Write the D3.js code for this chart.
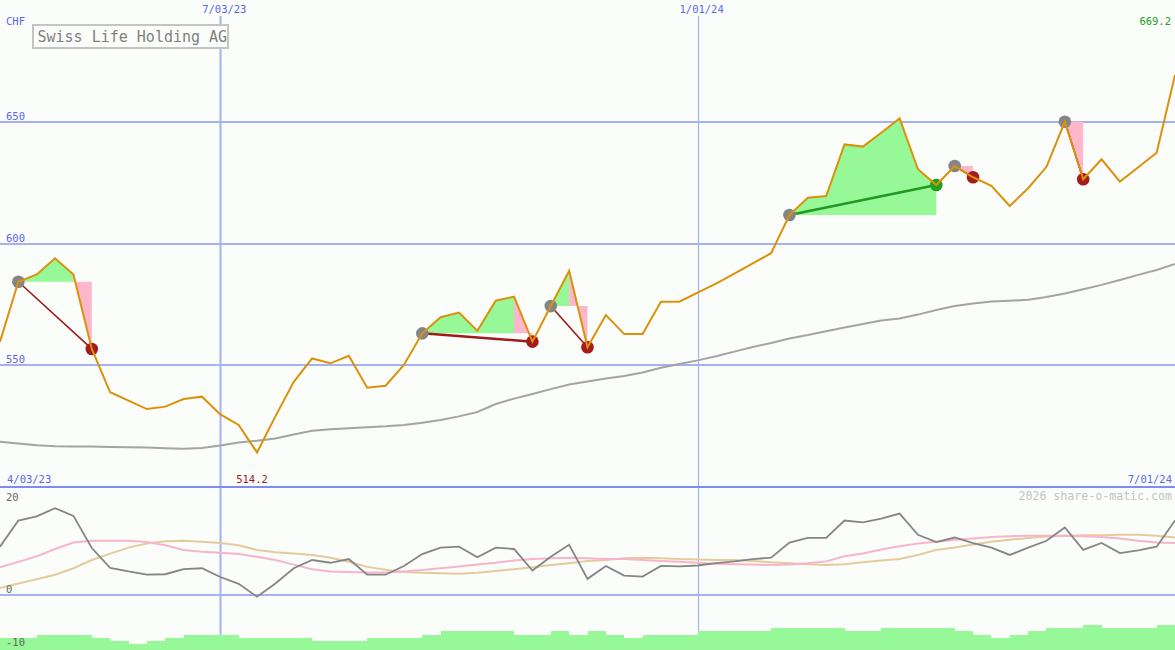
<!DOCTYPE html>
<html><head><meta charset="utf-8">
<script src="https://cdn.jsdelivr.net/npm/d3@7"></script>
<style>
html,body{margin:0;padding:0;background:#fafdfa;}
svg{display:block;}
text{font-family:"DejaVu Sans Mono",monospace;}
</style></head><body>
<svg id="chart" width="1175" height="650"></svg>
<script>
// ---------- data ----------
const title = "Swiss Life Holding AG";
const currency = "CHF";
const weeks = ["2023-04-10","2023-04-17","2023-04-24","2023-05-01","2023-05-08","2023-05-15","2023-05-22","2023-05-29","2023-06-05","2023-06-12","2023-06-19","2023-06-26","2023-07-03","2023-07-10","2023-07-17","2023-07-24","2023-07-31","2023-08-07","2023-08-14","2023-08-21","2023-08-28","2023-09-04","2023-09-11","2023-09-18","2023-09-25","2023-10-02","2023-10-09","2023-10-16","2023-10-23","2023-10-30","2023-11-06","2023-11-13","2023-11-20","2023-11-27","2023-12-04","2023-12-11","2023-12-18","2023-12-25","2024-01-01","2024-01-08","2024-01-15","2024-01-22","2024-01-29","2024-02-05","2024-02-12","2024-02-19","2024-02-26","2024-03-04","2024-03-11","2024-03-18","2024-03-25","2024-04-01","2024-04-08","2024-04-15","2024-04-22","2024-04-29","2024-05-06","2024-05-13","2024-05-20","2024-05-27","2024-06-03","2024-06-10","2024-06-17","2024-06-24","2024-07-01"];
const price = [559.7,584.3,587.3,593.9,587.3,556.7,538.9,535.5,532.0,533.0,536.1,537.1,529.8,525.5,514.2,529.0,543.2,552.8,550.8,553.9,540.8,541.6,550.1,563.1,569.7,571.6,564.2,576.5,578.2,559.7,574.3,588.8,557.4,570.6,562.8,562.8,576.1,576.1,579.8,583.5,587.6,591.8,596.0,611.7,618.8,619.5,640.7,639.8,645.5,651.4,630.5,624.0,631.8,627.2,623.7,615.4,622.7,631.5,650.0,626.4,634.6,625.4,631.3,637.3,669.2];
const movingAvg = [518.6,517.9,517.1,516.7,516.6,516.6,516.4,516.3,516.2,515.9,515.7,516.0,517.0,518.3,519.0,519.9,521.6,523.1,523.7,524.1,524.5,524.9,525.5,526.4,527.5,529.0,530.8,534.1,536.3,538.2,540.2,542.1,543.3,544.6,545.6,547.0,549.0,550.5,552.0,553.7,555.6,557.5,559.1,561.0,562.4,564.0,565.5,566.9,568.4,569.2,570.8,572.7,574.3,575.4,576.2,576.5,576.9,578.0,579.5,581.2,583.0,585.0,587.1,589.1,591.6];
const oscLine = [10.5,16.2,17.1,18.9,17.2,10.2,5.9,5.1,4.4,4.5,5.6,5.8,3.9,2.4,-0.4,2.5,5.8,7.6,7.0,7.8,4.4,4.4,6.3,8.9,10.3,10.5,8.2,10.3,10.0,5.3,8.3,10.9,3.5,6.3,4.2,4.0,6.3,6.2,6.4,6.9,7.3,7.8,8.1,11.4,12.4,12.4,16.2,15.8,16.6,17.7,13.1,11.5,12.5,11.3,10.3,8.7,10.3,11.8,14.7,9.8,11.3,9.1,9.7,10.5,16.2];
const oscPink = [6.0,7.2,8.4,10.0,11.4,11.8,11.8,11.8,11.5,10.8,9.8,9.4,9.2,8.9,8.3,7.6,6.6,5.6,5.1,5.0,4.9,4.9,5.1,5.4,5.8,6.2,6.6,7.0,7.5,7.8,8.0,8.1,8.0,7.8,7.8,7.6,7.4,7.2,7.0,6.8,6.7,6.6,6.5,6.6,6.9,7.3,8.4,9.0,9.9,10.6,11.2,11.6,12.0,12.3,12.6,12.8,12.9,12.9,12.9,12.8,12.6,12.3,11.8,11.4,11.3];
const oscTan = [1.5,2.5,3.4,4.4,5.8,7.6,9.0,10.3,11.2,11.7,11.8,11.6,11.3,10.8,9.8,9.3,9.0,8.7,8.1,7.2,6.1,5.5,5.0,4.8,4.7,4.6,4.8,5.2,5.6,6.0,6.5,6.9,7.4,7.6,8.0,8.1,8.0,7.8,7.7,7.6,7.6,7.4,7.1,6.9,6.7,6.5,6.7,7.1,7.5,7.8,8.7,9.8,10.3,11.0,11.6,12.0,12.4,12.7,12.9,13.0,13.0,13.1,13.1,12.9,12.5];
const volumeBars = [-9.35,-9.35,-8.7,-8.7,-8.7,-9.35,-10.0,-10.7,-10.0,-9.35,-8.7,-8.7,-8.7,-9.35,-9.35,-9.35,-9.35,-10.0,-10.0,-10.0,-9.35,-9.35,-9.35,-8.7,-7.85,-7.85,-7.85,-7.85,-8.7,-8.7,-7.85,-8.7,-7.85,-8.7,-9.35,-8.7,-8.7,-8.7,-7.85,-7.85,-7.85,-7.85,-7.2,-7.2,-7.2,-7.2,-7.85,-7.85,-7.2,-7.2,-7.2,-7.2,-7.85,-8.7,-9.35,-8.7,-7.85,-7.2,-7.2,-6.5,-7.2,-7.2,-7.2,-6.5];
const signalStarts = [1,23,30,43,52,58];
const signalEnds   = [5,29,32,51,53,59];
const priceTicks = [650,600,550];
const oscTicks = [20,0,-10];
const dateTicks = ["2023-07-03","2024-01-01"];
const dateTickLabels = ["7/03/23","1/01/24"];
const rangeLabels = ["4/03/23","7/01/24"];
const credit = "2026 share-o-matic.com";

// ---------- setup ----------
const W = 1175, H = 650, SPLIT = 487;
const parse = d3.utcParse("%Y-%m-%d");
const dates = weeks.map(parse);
const svg = d3.select("#chart");
svg.append("rect").attr("width",W).attr("height",H).attr("fill","#fafdfa");

const x = d3.scaleUtc().domain([dates[0], dates[dates.length-1]]).range([0, W]);
const yP = d3.scaleLinear().domain([500, 700]).range([SPLIT, 0]);
const yO = d3.scaleLinear().domain([-12, 23.5]).range([H, SPLIT]);

const GRID = "#a3b2f2", BLUE = "#5a66f0";

// horizontal price grid
svg.append("g").selectAll("line").data(priceTicks).join("line")
  .attr("x1",0).attr("x2",W).attr("y1",d=>Math.round(yP(d))).attr("y2",d=>Math.round(yP(d)))
  .attr("stroke",GRID).attr("stroke-width",2);
// oscillator zero line
svg.append("line").attr("x1",0).attr("x2",W).attr("y1",Math.round(yO(0))).attr("y2",Math.round(yO(0)))
  .attr("stroke",GRID).attr("stroke-width",2);
// vertical date lines
svg.append("g").selectAll("line").data(dateTicks).join("line")
  .attr("x1",d=>Math.round(x(parse(d)))+0.5).attr("x2",d=>Math.round(x(parse(d)))+0.5)
  .attr("y1",16).attr("y2",H)
  .attr("stroke",GRID).attr("stroke-width",(d,i)=>i===0?2:1.2);
// panel separator
svg.append("line").attr("x1",0).attr("x2",W).attr("y1",SPLIT).attr("y2",SPLIT)
  .attr("stroke","#7c8cf0").attr("stroke-width",2);

// moving average
svg.append("path").datum(movingAvg)
  .attr("d", d3.line().x((d,i)=>x(dates[i])).y(d=>yP(d)))
  .attr("fill","none").attr("stroke","#a4a4a4").attr("stroke-width",2);

// signal fills
const area = d3.area().x(d=>x(dates[d])).y0(d=>yP(d.lvl)).y1(d=>yP(price[d]));
signalStarts.forEach((s,k)=>{
  const e = signalEnds[k];
  const lvl = price[s];
  const gain = price[e] > lvl;
  const ar = d3.area().x(i=>x(dates[i])).y0(yP(lvl)).y1(i=>yP(price[i]));
  const body = d3.range(s, e);
  if (body.length > 1) svg.append("path").attr("d", ar(body)).attr("fill","#96f896");
  svg.append("path").attr("d", ar([e-1, e])).attr("fill", gain ? "#96f896" : "#fdb6cb");
});
// signal connecting lines
signalStarts.forEach((s,k)=>{
  const e = signalEnds[k];
  const gain = price[e] > price[s];
  svg.append("line")
    .attr("x1",x(dates[s])).attr("y1",yP(price[s]))
    .attr("x2",x(dates[e])).attr("y2",yP(price[e]))
    .attr("stroke", gain ? "#229922" : "#a01a1a").attr("stroke-width", (k===1||k===3)?2.5:1.6);
});
// signal markers
signalStarts.forEach((s,k)=>{
  const e = signalEnds[k];
  const gain = price[e] > price[s];
  svg.append("circle").attr("cx",x(dates[s])).attr("cy",yP(price[s])).attr("r",6.3).attr("fill","#858585");
  svg.append("circle").attr("cx",x(dates[e])).attr("cy",yP(price[e])).attr("r",6.3)
    .attr("fill", gain ? "#22a022" : "#a51c1c");
});

// price line
svg.append("path").datum(price)
  .attr("d", d3.line().x((d,i)=>x(dates[i])).y(d=>yP(d)))
  .attr("fill","none").attr("stroke","#dc910a").attr("stroke-width",2).attr("stroke-linejoin","miter");

// oscillator lines
const oscL = d3.line().x((d,i)=>x(dates[i])).y(d=>yO(d));
svg.append("path").datum(oscTan).attr("d",oscL).attr("fill","none").attr("stroke","#e3cb9c").attr("stroke-width",2);
svg.append("path").datum(oscPink).attr("d",oscL).attr("fill","none").attr("stroke","#f8b4c8").attr("stroke-width",2);
svg.append("path").datum(oscLine).attr("d",oscL).attr("fill","none").attr("stroke","#858585").attr("stroke-width",1.8);

// volume-like bars
svg.append("g").selectAll("rect").data(volumeBars).join("rect")
  .attr("x",(d,i)=>Math.round(x(dates[i])))
  .attr("width",(d,i)=>Math.round(x(dates[i+1]))-Math.round(x(dates[i])))
  .attr("y",d=>Math.round(yO(d)))
  .attr("height",d=>H-Math.round(yO(d)))
  .attr("fill","#96f896").attr("shape-rendering","crispEdges");

// ---------- text ----------
const T = (txt,xx,yy,opt={}) => svg.append("text").text(txt).attr("x",xx).attr("y",yy)
  .attr("font-size",opt.size||10.5).attr("fill",opt.fill||BLUE).attr("text-anchor",opt.anchor||"start");

T(currency, 6, 25);
priceTicks.forEach(v=>T(String(v), 6, yP(v)-2));
dateTicks.forEach((d,i)=>T(dateTickLabels[i], x(parse(d))+4, 13, {anchor:"middle"}));
T(rangeLabels[0], 7, 483);
T(rangeLabels[1], 1172, 483, {anchor:"end"});
const fmt = d3.format(".1f");
const iMin = d3.minIndex(price);
T(fmt(price[iMin]), x(dates[iMin])-5, 483, {anchor:"middle", fill:"#a01a1a"});
T(fmt(price[price.length-1]), 1171, 25, {anchor:"end", fill:"#22a022"});
oscTicks.forEach((v,i)=>T(String(v), 6, i===oscTicks.length-1 ? 646 : yO(v)-2, {fill:"#666666"}));
T(credit, 1172, 500, {anchor:"end", fill:"#c4c4c4", size:11.6});

// title box
svg.append("rect").attr("x",33).attr("y",25).attr("width",195).attr("height",23)
  .attr("fill","#fafdfa").attr("stroke","#c4c4c4").attr("stroke-width",2);
T(title, 37.5, 42, {fill:"#808080", size:15});
</script>
</body></html>
